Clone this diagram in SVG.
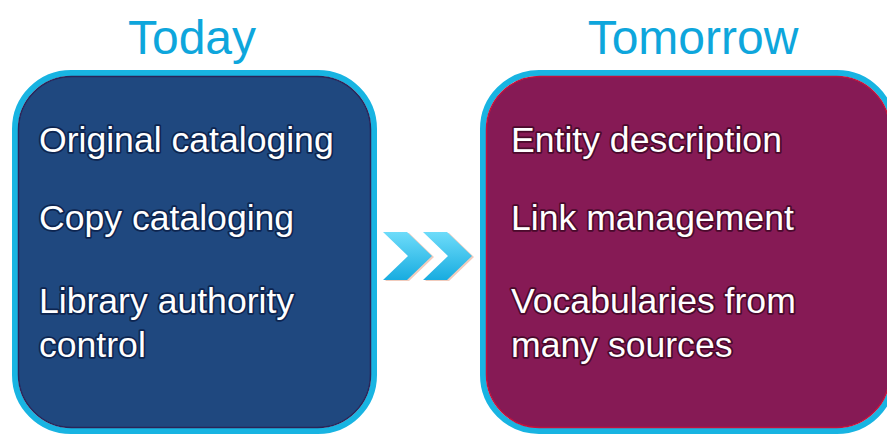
<svg xmlns="http://www.w3.org/2000/svg" width="887" height="436" viewBox="0 0 887 436">
<defs>
<style>
.title{font-family:"Liberation Sans",Arial,sans-serif;font-size:48px;fill:#0ea6dc;text-anchor:middle}
.frame{fill:none;stroke:#18b4e2;stroke-width:6}
.body{font-family:"Liberation Sans",Arial,sans-serif;font-size:35.6px;fill:#ffffff;stroke-width:3.5;stroke-linejoin:round;paint-order:stroke}
.lt{stroke:#0d2550}
.rt{stroke:#4a0a2c}
</style>
<linearGradient id="chev" x1="0" y1="0" x2="0" y2="1">
<stop offset="0" stop-color="#6edcfa"/>
<stop offset="1" stop-color="#18ace0"/>
</linearGradient>
</defs>
<rect width="887" height="436" fill="#ffffff"/>
<text class="title" x="192" y="54">Today</text>
<text class="title" x="693" y="54">Tomorrow</text>
<g id="today">
<rect class="frame" x="15" y="73" width="359" height="358" rx="56"/>
<rect x="18.5" y="76.5" width="352" height="351" rx="53" fill="#1f487f" stroke="#2a2458" stroke-width="1.5"/>
<text class="body lt" x="39" y="152">Original cataloging</text>
<text class="body lt" x="39" y="230">Copy cataloging</text>
<text class="body lt" x="39" y="313">Library authority</text>
<text class="body lt" x="39" y="357">control</text>
</g>
<g id="tomorrow">
<rect class="frame" x="483" y="73" width="410" height="358" rx="56"/>
<rect x="486.5" y="76.5" width="403" height="351" rx="53" fill="#861a55" stroke="#c0123e" stroke-width="1.5"/>
<text class="body rt" x="511" y="152">Entity description</text>
<text class="body rt" x="511" y="230">Link management</text>
<text class="body rt" x="511" y="313">Vocabularies from</text>
<text class="body rt" x="511" y="357">many sources</text>
</g>
<g id="connectors">
<polygon points="385,233 409,233 434,257 409,281 385,281 410,257" fill="#e8a890" opacity="0.6"/>
<polygon points="425,233 449,233 474,257 449,281 425,281 450,257" fill="#e8a890" opacity="0.6"/>
<polygon points="383,232 407,232 432,256 407,280 383,280 408,256" fill="url(#chev)"/>
<polygon points="423,232 447,232 472,256 447,280 423,280 448,256" fill="url(#chev)"/>
</g>
</svg>
